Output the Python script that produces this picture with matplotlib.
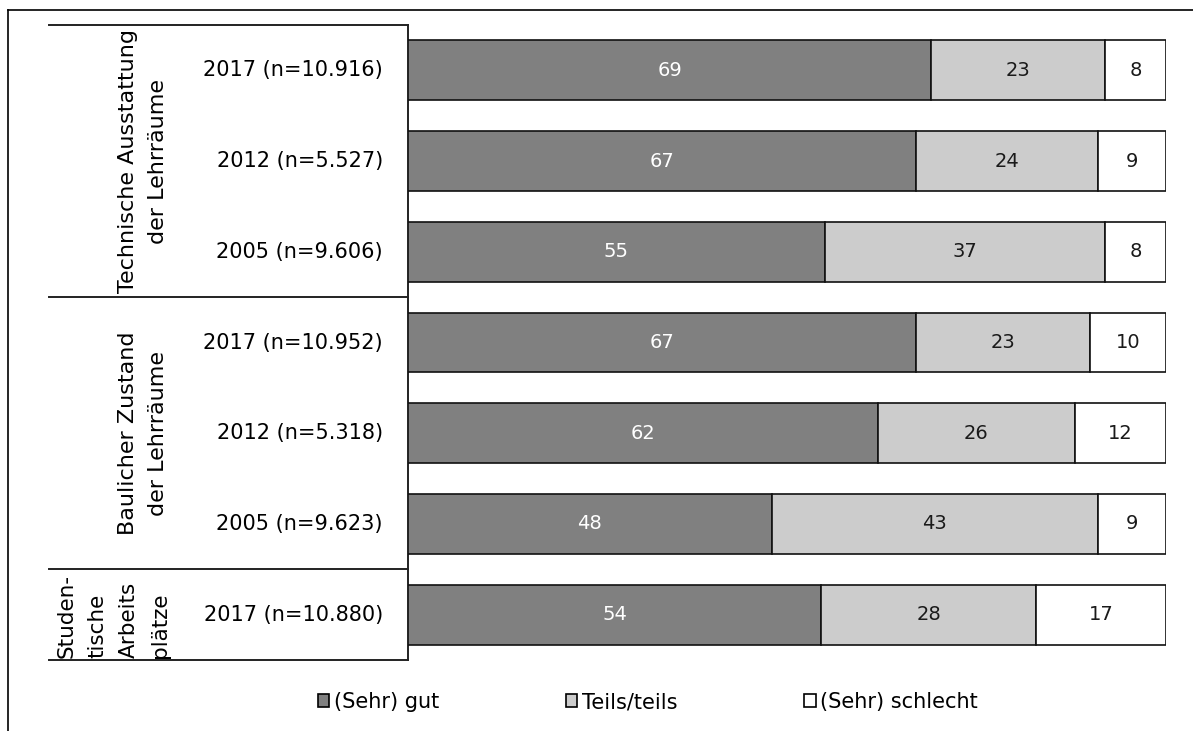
import matplotlib.pyplot as plt
from matplotlib.patches import Patch

plt.rcParams['font.family'] = ['DejaVu Sans']

# data
groups = ["Technische Ausstattung\nder Lehrräume",
          "Baulicher Zustand\nder Lehrräume",
          "Studen-\ntische\nArbeits\nplätze"]
group_rows = [3, 3, 1]
years = ["2017 (n=10.916)", "2012 (n=5.527)", "2005 (n=9.606)",
         "2017 (n=10.952)", "2012 (n=5.318)", "2005 (n=9.623)",
         "2017 (n=10.880)"]
gut = [69, 67, 55, 67, 62, 48, 54]
teils = [23, 24, 37, 23, 26, 43, 28]
schlecht = [8, 9, 8, 10, 12, 9, 17]
legend_labels = ["(Sehr) gut", "Teils/teils", "(Sehr) schlecht"]
colors = ["#808080", "#cccccc", "#ffffff"]
text_colors = ["white", "#1a1a1a", "#1a1a1a"]

W, H = 1193, 731
fig = plt.figure(figsize=(W / 100, H / 100), dpi=100)

# overlay in pixel coordinates for frame, table lines and labels
ov = fig.add_axes([0, 0, 1, 1], zorder=0)
ov.set_xlim(0, W)
ov.set_ylim(H, 0)
ov.axis('off')
ov.patch.set_visible(False)

top_px, bot_px = 25, 660
left_px, right_px = 408, 1166
row_h = (bot_px - top_px) / len(years)

# outer frame (top and left)
ov.plot([8, W], [10, 10], color='black', lw=1.2)
ov.plot([8, 8], [10, H], color='black', lw=1.2)

# table lines
ov.plot([left_px, left_px], [top_px, bot_px], color='#222222', lw=1.4)
start = 0
ov.plot([49, left_px], [top_px, top_px], color='#222222', lw=1.4)
for g, n in zip(groups, group_rows):
    y0 = top_px + start * row_h
    y1 = top_px + (start + n) * row_h
    ov.plot([49, left_px], [y1, y1], color='#222222', lw=1.4)
    if n > 1:
        ov.text(143, (y0 + y1) / 2, g, rotation=90, ha='center', va='center',
                fontsize=16, linespacing=1.6, multialignment='center')
    else:
        ov.text(113, y1 - 2, g, rotation=90, ha='center', va='bottom',
                fontsize=15.5, linespacing=1.7, multialignment='left')
    start += n

for i, lab in enumerate(years):
    ov.text(383, top_px + (i + 0.5) * row_h, lab, ha='right', va='center', fontsize=15)

# bars, as share of each row total
totals = [a + b + c for a, b, c in zip(gut, teils, schlecht)]
ax = fig.add_axes([left_px / W, 1 - bot_px / H, (right_px - left_px) / W,
                   (bot_px - top_px) / H], zorder=2)
ax.patch.set_visible(False)
ypos = list(range(len(years)))
lefts = [0] * len(years)
for vals, c, tc in zip([gut, teils, schlecht], colors, text_colors):
    widths = [100 * v / t for v, t in zip(vals, totals)]
    ax.barh(ypos, widths, left=lefts, height=0.66, color=c, edgecolor='#111111', linewidth=1.2)
    for y, v, w, l in zip(ypos, vals, widths, lefts):
        ax.text(l + w / 2, y, str(v), ha='center', va='center', color=tc, fontsize=14)
    lefts = [a + b for a, b in zip(lefts, widths)]
ax.set_xlim(0, 100)
ax.set_ylim(len(years) - 0.5, -0.5)
ax.axis('off')

# legend
handles = [Patch(facecolor=c, edgecolor='black', linewidth=1.2) for c in colors]
fig.legend(handles, legend_labels, loc='center left', bbox_to_anchor=(318 / W, 1 - 702 / H),
           ncol=3, frameon=False, fontsize=15, handlelength=0.55, handleheight=0.55,
           handletextpad=0.2, columnspacing=6.1, borderpad=0, borderaxespad=0)

fig.savefig('out.png', dpi=100)
